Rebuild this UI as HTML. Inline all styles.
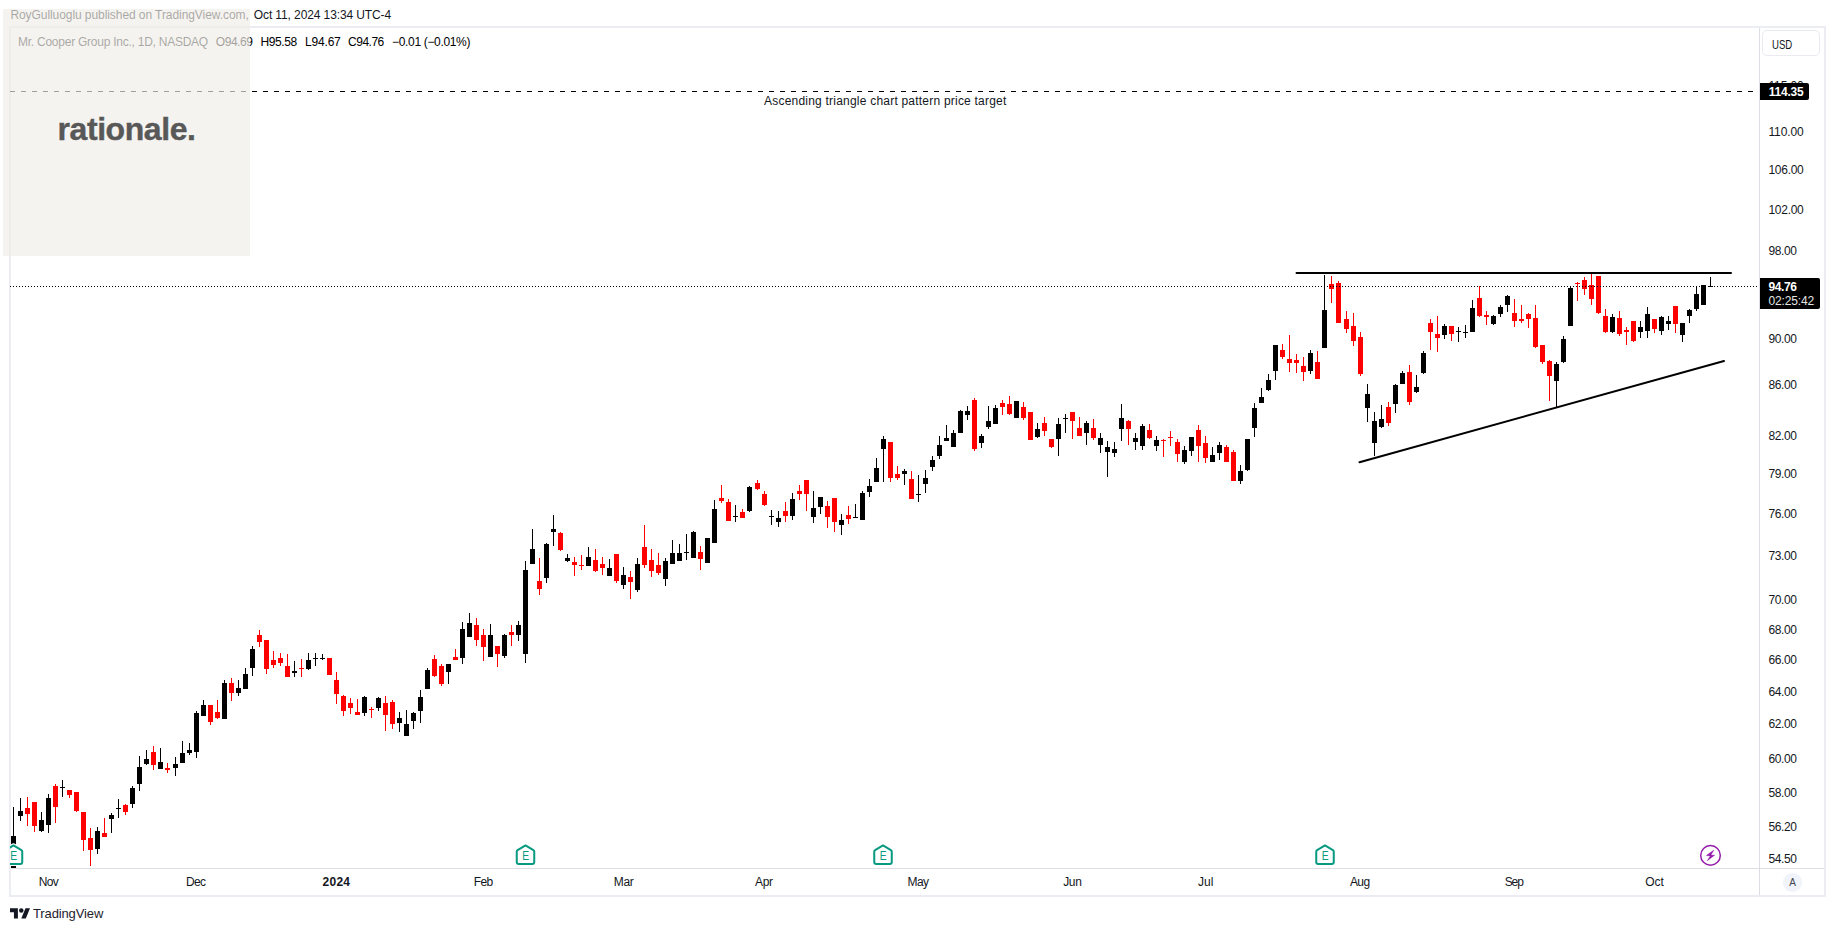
<!DOCTYPE html>
<html lang="en"><head><meta charset="utf-8"><title>COOP chart</title>
<style>
html,body{margin:0;padding:0;background:#fff}
body{width:1835px;height:931px;position:relative;overflow:hidden;font-family:"Liberation Sans", sans-serif;}
.t{position:absolute;height:16px;line-height:16px;white-space:pre;margin:0;padding:0}
.frame{position:absolute;left:9px;top:26px;width:1813px;height:867px;border:2px solid #ecedf2;box-sizing:content-box}
.vline{position:absolute;left:1759px;top:28px;width:1px;height:867px;background:#dddee3}
.hline{position:absolute;left:11px;top:868px;width:1813px;height:1px;background:#dddee3}
.chart{position:absolute;left:10px;top:28px;overflow:hidden}
.box{position:absolute;background:#000;border-radius:0 2px 2px 0}
.usd{position:absolute;left:1762.3px;top:30.2px;width:55.4px;height:23.6px;border:1.6px solid #e9ebf1;border-radius:5px}
.acirc{position:absolute;left:1783.3px;top:873.3px;width:18.4px;height:18.4px;border-radius:50%;background:#f0f3fa}
.overlay{position:absolute;left:3px;top:9px;width:247px;height:247px;background:rgba(240,237,231,0.67)}
.logo{position:absolute;left:57.5px;top:109.2px;-webkit-text-stroke:0.4px #585858;height:40px;line-height:40px;font-size:32px;font-weight:bold;color:#585858;letter-spacing:-0.42px;white-space:pre}
.tvlogo{position:absolute;left:9.8px;top:905.8px}
</style></head><body>
<div class="frame"></div>
<div class="vline"></div>
<div class="hline"></div>
<svg class="chart" width="1749" height="840" viewBox="10 28 1749 840">
<line x1="10" y1="91.5" x2="1759" y2="91.5" stroke="#000" stroke-width="1" stroke-dasharray="5 6" shape-rendering="crispEdges"/>
<g shape-rendering="crispEdges">
<rect x="13" y="807" width="1" height="61" fill="#000"/>
<rect x="11" y="836" width="5" height="32" fill="#000"/>
<rect x="20" y="798" width="1" height="23" fill="#000"/>
<rect x="18" y="811" width="5" height="5" fill="#000"/>
<rect x="27" y="797" width="1" height="29" fill="#f00"/>
<rect x="25" y="808" width="5" height="6" fill="#f00"/>
<rect x="34" y="802" width="1" height="30" fill="#f00"/>
<rect x="32" y="802" width="5" height="24" fill="#f00"/>
<rect x="41" y="812" width="1" height="20" fill="#000"/>
<rect x="39" y="820" width="5" height="11" fill="#000"/>
<rect x="48" y="794" width="1" height="39" fill="#000"/>
<rect x="46" y="798" width="5" height="27" fill="#000"/>
<rect x="55" y="784" width="1" height="39" fill="#f00"/>
<rect x="53" y="786" width="5" height="21" fill="#f00"/>
<rect x="62" y="780" width="1" height="17" fill="#000"/>
<rect x="60" y="787" width="5" height="1" fill="#000"/>
<rect x="69" y="790" width="1" height="8" fill="#f00"/>
<rect x="67" y="790" width="5" height="5" fill="#f00"/>
<rect x="76" y="792" width="1" height="20" fill="#f00"/>
<rect x="74" y="792" width="5" height="19" fill="#f00"/>
<rect x="83" y="812" width="1" height="39" fill="#f00"/>
<rect x="81" y="812" width="5" height="28" fill="#f00"/>
<rect x="90" y="828" width="1" height="38" fill="#f00"/>
<rect x="88" y="838" width="5" height="12" fill="#f00"/>
<rect x="97" y="827" width="1" height="27" fill="#000"/>
<rect x="95" y="831" width="5" height="18" fill="#000"/>
<rect x="104" y="818" width="1" height="19" fill="#f00"/>
<rect x="102" y="833" width="5" height="4" fill="#f00"/>
<rect x="111" y="813" width="1" height="20" fill="#000"/>
<rect x="109" y="815" width="5" height="4" fill="#000"/>
<rect x="118" y="799" width="1" height="19" fill="#000"/>
<rect x="116" y="808" width="5" height="1" fill="#000"/>
<rect x="125" y="804" width="1" height="11" fill="#f00"/>
<rect x="123" y="805" width="5" height="7" fill="#f00"/>
<rect x="132" y="786" width="1" height="22" fill="#000"/>
<rect x="130" y="788" width="5" height="16" fill="#000"/>
<rect x="139" y="756" width="1" height="35" fill="#000"/>
<rect x="137" y="767" width="5" height="17" fill="#000"/>
<rect x="146" y="750" width="1" height="15" fill="#000"/>
<rect x="144" y="759" width="5" height="5" fill="#000"/>
<rect x="153" y="746" width="1" height="24" fill="#f00"/>
<rect x="151" y="752" width="5" height="13" fill="#f00"/>
<rect x="160" y="748" width="1" height="21" fill="#000"/>
<rect x="158" y="762" width="5" height="7" fill="#000"/>
<rect x="167" y="763" width="1" height="10" fill="#f00"/>
<rect x="165" y="768" width="5" height="2" fill="#f00"/>
<rect x="175" y="757" width="1" height="19" fill="#000"/>
<rect x="173" y="764" width="5" height="4" fill="#000"/>
<rect x="182" y="741" width="1" height="22" fill="#000"/>
<rect x="180" y="753" width="5" height="10" fill="#000"/>
<rect x="189" y="743" width="1" height="12" fill="#000"/>
<rect x="187" y="750" width="5" height="3" fill="#000"/>
<rect x="196" y="711" width="1" height="47" fill="#000"/>
<rect x="194" y="713" width="5" height="39" fill="#000"/>
<rect x="203" y="700" width="1" height="16" fill="#000"/>
<rect x="201" y="705" width="5" height="11" fill="#000"/>
<rect x="210" y="705" width="1" height="20" fill="#f00"/>
<rect x="208" y="705" width="5" height="17" fill="#f00"/>
<rect x="217" y="700" width="1" height="19" fill="#f00"/>
<rect x="215" y="712" width="5" height="6" fill="#f00"/>
<rect x="224" y="680" width="1" height="39" fill="#000"/>
<rect x="222" y="683" width="5" height="36" fill="#000"/>
<rect x="231" y="678" width="1" height="23" fill="#f00"/>
<rect x="229" y="683" width="5" height="10" fill="#f00"/>
<rect x="238" y="680" width="1" height="16" fill="#000"/>
<rect x="236" y="688" width="5" height="5" fill="#000"/>
<rect x="245" y="668" width="1" height="21" fill="#000"/>
<rect x="243" y="674" width="5" height="15" fill="#000"/>
<rect x="252" y="646" width="1" height="30" fill="#000"/>
<rect x="250" y="649" width="5" height="19" fill="#000"/>
<rect x="259" y="630" width="1" height="17" fill="#f00"/>
<rect x="257" y="635" width="5" height="7" fill="#f00"/>
<rect x="266" y="640" width="1" height="34" fill="#f00"/>
<rect x="264" y="640" width="5" height="29" fill="#f00"/>
<rect x="273" y="651" width="1" height="17" fill="#f00"/>
<rect x="271" y="660" width="5" height="5" fill="#f00"/>
<rect x="280" y="653" width="1" height="13" fill="#f00"/>
<rect x="278" y="658" width="5" height="5" fill="#f00"/>
<rect x="287" y="654" width="1" height="23" fill="#f00"/>
<rect x="285" y="666" width="5" height="11" fill="#f00"/>
<rect x="294" y="661" width="1" height="16" fill="#000"/>
<rect x="292" y="671" width="5" height="2" fill="#000"/>
<rect x="301" y="659" width="1" height="18" fill="#f00"/>
<rect x="299" y="668" width="5" height="1" fill="#f00"/>
<rect x="308" y="653" width="1" height="17" fill="#000"/>
<rect x="306" y="660" width="5" height="9" fill="#000"/>
<rect x="315" y="653" width="1" height="13" fill="#000"/>
<rect x="313" y="658" width="5" height="1" fill="#000"/>
<rect x="322" y="654" width="1" height="6" fill="#000"/>
<rect x="320" y="658" width="5" height="1" fill="#000"/>
<rect x="329" y="658" width="1" height="17" fill="#f00"/>
<rect x="327" y="658" width="5" height="17" fill="#f00"/>
<rect x="336" y="672" width="1" height="32" fill="#f00"/>
<rect x="334" y="680" width="5" height="14" fill="#f00"/>
<rect x="343" y="695" width="1" height="21" fill="#f00"/>
<rect x="341" y="696" width="5" height="15" fill="#f00"/>
<rect x="350" y="698" width="1" height="16" fill="#f00"/>
<rect x="348" y="703" width="5" height="5" fill="#f00"/>
<rect x="357" y="699" width="1" height="16" fill="#f00"/>
<rect x="355" y="712" width="5" height="3" fill="#f00"/>
<rect x="364" y="696" width="1" height="20" fill="#000"/>
<rect x="362" y="697" width="5" height="16" fill="#000"/>
<rect x="371" y="707" width="1" height="11" fill="#f00"/>
<rect x="369" y="709" width="5" height="1" fill="#f00"/>
<rect x="378" y="697" width="1" height="14" fill="#000"/>
<rect x="376" y="698" width="5" height="10" fill="#000"/>
<rect x="385" y="696" width="1" height="35" fill="#f00"/>
<rect x="383" y="703" width="5" height="12" fill="#f00"/>
<rect x="392" y="700" width="1" height="29" fill="#f00"/>
<rect x="390" y="702" width="5" height="22" fill="#f00"/>
<rect x="399" y="712" width="1" height="20" fill="#000"/>
<rect x="397" y="718" width="5" height="5" fill="#000"/>
<rect x="406" y="710" width="1" height="26" fill="#000"/>
<rect x="404" y="724" width="5" height="12" fill="#000"/>
<rect x="413" y="712" width="1" height="17" fill="#000"/>
<rect x="411" y="713" width="5" height="8" fill="#000"/>
<rect x="420" y="690" width="1" height="33" fill="#000"/>
<rect x="418" y="697" width="5" height="14" fill="#000"/>
<rect x="427" y="668" width="1" height="21" fill="#000"/>
<rect x="425" y="670" width="5" height="19" fill="#000"/>
<rect x="434" y="655" width="1" height="22" fill="#f00"/>
<rect x="432" y="659" width="5" height="17" fill="#f00"/>
<rect x="441" y="664" width="1" height="22" fill="#f00"/>
<rect x="439" y="666" width="5" height="18" fill="#f00"/>
<rect x="448" y="664" width="1" height="20" fill="#000"/>
<rect x="446" y="664" width="5" height="8" fill="#000"/>
<rect x="455" y="649" width="1" height="11" fill="#f00"/>
<rect x="453" y="657" width="5" height="3" fill="#f00"/>
<rect x="462" y="622" width="1" height="42" fill="#000"/>
<rect x="460" y="629" width="5" height="29" fill="#000"/>
<rect x="469" y="613" width="1" height="24" fill="#000"/>
<rect x="467" y="623" width="5" height="14" fill="#000"/>
<rect x="476" y="618" width="1" height="28" fill="#f00"/>
<rect x="474" y="625" width="5" height="15" fill="#f00"/>
<rect x="483" y="629" width="1" height="32" fill="#f00"/>
<rect x="481" y="635" width="5" height="12" fill="#f00"/>
<rect x="490" y="624" width="1" height="33" fill="#000"/>
<rect x="488" y="635" width="5" height="22" fill="#000"/>
<rect x="497" y="646" width="1" height="21" fill="#f00"/>
<rect x="495" y="646" width="5" height="8" fill="#f00"/>
<rect x="504" y="634" width="1" height="24" fill="#000"/>
<rect x="502" y="635" width="5" height="21" fill="#000"/>
<rect x="511" y="625" width="1" height="21" fill="#f00"/>
<rect x="509" y="632" width="5" height="3" fill="#f00"/>
<rect x="518" y="621" width="1" height="20" fill="#000"/>
<rect x="516" y="625" width="5" height="10" fill="#000"/>
<rect x="525" y="561" width="1" height="102" fill="#000"/>
<rect x="523" y="570" width="5" height="84" fill="#000"/>
<rect x="532" y="529" width="1" height="35" fill="#000"/>
<rect x="530" y="549" width="5" height="15" fill="#000"/>
<rect x="539" y="558" width="1" height="37" fill="#f00"/>
<rect x="537" y="581" width="5" height="8" fill="#f00"/>
<rect x="546" y="543" width="1" height="40" fill="#000"/>
<rect x="544" y="544" width="5" height="34" fill="#000"/>
<rect x="553" y="515" width="1" height="31" fill="#000"/>
<rect x="551" y="529" width="5" height="3" fill="#000"/>
<rect x="560" y="532" width="1" height="19" fill="#f00"/>
<rect x="558" y="533" width="5" height="17" fill="#f00"/>
<rect x="567" y="554" width="1" height="8" fill="#000"/>
<rect x="565" y="558" width="5" height="3" fill="#000"/>
<rect x="574" y="557" width="1" height="19" fill="#f00"/>
<rect x="572" y="562" width="5" height="3" fill="#f00"/>
<rect x="581" y="555" width="1" height="15" fill="#f00"/>
<rect x="579" y="565" width="5" height="1" fill="#f00"/>
<rect x="588" y="547" width="1" height="19" fill="#000"/>
<rect x="586" y="557" width="5" height="9" fill="#000"/>
<rect x="595" y="549" width="1" height="23" fill="#f00"/>
<rect x="593" y="560" width="5" height="11" fill="#f00"/>
<rect x="602" y="557" width="1" height="18" fill="#f00"/>
<rect x="600" y="564" width="5" height="4" fill="#f00"/>
<rect x="609" y="559" width="1" height="17" fill="#000"/>
<rect x="607" y="568" width="5" height="8" fill="#000"/>
<rect x="616" y="554" width="1" height="29" fill="#f00"/>
<rect x="614" y="554" width="5" height="27" fill="#f00"/>
<rect x="623" y="567" width="1" height="22" fill="#000"/>
<rect x="621" y="575" width="5" height="10" fill="#000"/>
<rect x="630" y="571" width="1" height="28" fill="#f00"/>
<rect x="628" y="577" width="5" height="5" fill="#f00"/>
<rect x="637" y="558" width="1" height="34" fill="#000"/>
<rect x="635" y="564" width="5" height="26" fill="#000"/>
<rect x="644" y="525" width="1" height="43" fill="#f00"/>
<rect x="642" y="547" width="5" height="18" fill="#f00"/>
<rect x="651" y="549" width="1" height="28" fill="#f00"/>
<rect x="649" y="560" width="5" height="11" fill="#f00"/>
<rect x="658" y="553" width="1" height="22" fill="#f00"/>
<rect x="656" y="565" width="5" height="8" fill="#f00"/>
<rect x="665" y="558" width="1" height="28" fill="#000"/>
<rect x="663" y="561" width="5" height="18" fill="#000"/>
<rect x="672" y="540" width="1" height="24" fill="#000"/>
<rect x="670" y="553" width="5" height="11" fill="#000"/>
<rect x="679" y="544" width="1" height="17" fill="#000"/>
<rect x="677" y="553" width="5" height="8" fill="#000"/>
<rect x="686" y="534" width="1" height="26" fill="#000"/>
<rect x="684" y="552" width="5" height="1" fill="#000"/>
<rect x="693" y="531" width="1" height="27" fill="#000"/>
<rect x="691" y="532" width="5" height="26" fill="#000"/>
<rect x="700" y="546" width="1" height="24" fill="#f00"/>
<rect x="698" y="552" width="5" height="7" fill="#f00"/>
<rect x="707" y="538" width="1" height="25" fill="#000"/>
<rect x="705" y="538" width="5" height="25" fill="#000"/>
<rect x="714" y="500" width="1" height="43" fill="#000"/>
<rect x="712" y="509" width="5" height="34" fill="#000"/>
<rect x="721" y="485" width="1" height="18" fill="#f00"/>
<rect x="719" y="498" width="5" height="3" fill="#f00"/>
<rect x="728" y="499" width="1" height="22" fill="#f00"/>
<rect x="726" y="502" width="5" height="19" fill="#f00"/>
<rect x="735" y="505" width="1" height="17" fill="#000"/>
<rect x="733" y="516" width="5" height="1" fill="#000"/>
<rect x="742" y="509" width="1" height="9" fill="#f00"/>
<rect x="740" y="512" width="5" height="6" fill="#f00"/>
<rect x="749" y="486" width="1" height="26" fill="#000"/>
<rect x="747" y="487" width="5" height="24" fill="#000"/>
<rect x="757" y="480" width="1" height="10" fill="#f00"/>
<rect x="755" y="483" width="5" height="6" fill="#f00"/>
<rect x="764" y="491" width="1" height="15" fill="#f00"/>
<rect x="762" y="494" width="5" height="11" fill="#f00"/>
<rect x="771" y="510" width="1" height="15" fill="#000"/>
<rect x="769" y="516" width="5" height="1" fill="#000"/>
<rect x="778" y="511" width="1" height="16" fill="#000"/>
<rect x="776" y="518" width="5" height="4" fill="#000"/>
<rect x="785" y="502" width="1" height="20" fill="#f00"/>
<rect x="783" y="511" width="5" height="5" fill="#f00"/>
<rect x="792" y="493" width="1" height="27" fill="#000"/>
<rect x="790" y="499" width="5" height="17" fill="#000"/>
<rect x="799" y="485" width="1" height="15" fill="#f00"/>
<rect x="797" y="491" width="5" height="3" fill="#f00"/>
<rect x="806" y="480" width="1" height="31" fill="#f00"/>
<rect x="804" y="480" width="5" height="14" fill="#f00"/>
<rect x="813" y="491" width="1" height="32" fill="#000"/>
<rect x="811" y="508" width="5" height="9" fill="#000"/>
<rect x="820" y="497" width="1" height="17" fill="#000"/>
<rect x="818" y="497" width="5" height="10" fill="#000"/>
<rect x="827" y="501" width="1" height="27" fill="#f00"/>
<rect x="825" y="506" width="5" height="11" fill="#f00"/>
<rect x="834" y="498" width="1" height="34" fill="#f00"/>
<rect x="832" y="498" width="5" height="24" fill="#f00"/>
<rect x="841" y="514" width="1" height="21" fill="#000"/>
<rect x="839" y="520" width="5" height="5" fill="#000"/>
<rect x="848" y="506" width="1" height="18" fill="#f00"/>
<rect x="846" y="515" width="5" height="4" fill="#f00"/>
<rect x="855" y="504" width="1" height="14" fill="#000"/>
<rect x="853" y="517" width="5" height="1" fill="#000"/>
<rect x="862" y="491" width="1" height="29" fill="#000"/>
<rect x="860" y="493" width="5" height="27" fill="#000"/>
<rect x="869" y="479" width="1" height="18" fill="#000"/>
<rect x="867" y="486" width="5" height="6" fill="#000"/>
<rect x="876" y="458" width="1" height="24" fill="#000"/>
<rect x="874" y="468" width="5" height="14" fill="#000"/>
<rect x="883" y="436" width="1" height="46" fill="#000"/>
<rect x="881" y="439" width="5" height="10" fill="#000"/>
<rect x="890" y="442" width="1" height="40" fill="#f00"/>
<rect x="888" y="442" width="5" height="36" fill="#f00"/>
<rect x="897" y="466" width="1" height="14" fill="#f00"/>
<rect x="895" y="474" width="5" height="4" fill="#f00"/>
<rect x="904" y="469" width="1" height="16" fill="#000"/>
<rect x="902" y="471" width="5" height="3" fill="#000"/>
<rect x="911" y="471" width="1" height="28" fill="#f00"/>
<rect x="909" y="479" width="5" height="20" fill="#f00"/>
<rect x="918" y="475" width="1" height="27" fill="#000"/>
<rect x="916" y="494" width="5" height="1" fill="#000"/>
<rect x="925" y="470" width="1" height="23" fill="#000"/>
<rect x="923" y="478" width="5" height="6" fill="#000"/>
<rect x="932" y="456" width="1" height="15" fill="#000"/>
<rect x="930" y="460" width="5" height="7" fill="#000"/>
<rect x="939" y="436" width="1" height="23" fill="#000"/>
<rect x="937" y="445" width="5" height="11" fill="#000"/>
<rect x="946" y="425" width="1" height="16" fill="#000"/>
<rect x="944" y="438" width="5" height="3" fill="#000"/>
<rect x="953" y="430" width="1" height="17" fill="#000"/>
<rect x="951" y="433" width="5" height="14" fill="#000"/>
<rect x="960" y="410" width="1" height="23" fill="#000"/>
<rect x="958" y="411" width="5" height="22" fill="#000"/>
<rect x="967" y="406" width="1" height="14" fill="#000"/>
<rect x="965" y="411" width="5" height="4" fill="#000"/>
<rect x="974" y="398" width="1" height="53" fill="#f00"/>
<rect x="972" y="400" width="5" height="49" fill="#f00"/>
<rect x="981" y="434" width="1" height="14" fill="#000"/>
<rect x="979" y="436" width="5" height="7" fill="#000"/>
<rect x="988" y="406" width="1" height="23" fill="#000"/>
<rect x="986" y="421" width="5" height="6" fill="#000"/>
<rect x="995" y="405" width="1" height="19" fill="#000"/>
<rect x="993" y="408" width="5" height="16" fill="#000"/>
<rect x="1002" y="400" width="1" height="15" fill="#f00"/>
<rect x="1000" y="403" width="5" height="4" fill="#f00"/>
<rect x="1009" y="396" width="1" height="19" fill="#f00"/>
<rect x="1007" y="404" width="5" height="10" fill="#f00"/>
<rect x="1016" y="401" width="1" height="17" fill="#000"/>
<rect x="1014" y="401" width="5" height="17" fill="#000"/>
<rect x="1023" y="402" width="1" height="18" fill="#f00"/>
<rect x="1021" y="407" width="5" height="11" fill="#f00"/>
<rect x="1030" y="412" width="1" height="28" fill="#f00"/>
<rect x="1028" y="412" width="5" height="28" fill="#f00"/>
<rect x="1037" y="423" width="1" height="15" fill="#000"/>
<rect x="1035" y="429" width="5" height="8" fill="#000"/>
<rect x="1044" y="417" width="1" height="19" fill="#f00"/>
<rect x="1042" y="423" width="5" height="8" fill="#f00"/>
<rect x="1051" y="439" width="1" height="9" fill="#f00"/>
<rect x="1049" y="439" width="5" height="8" fill="#f00"/>
<rect x="1058" y="418" width="1" height="38" fill="#000"/>
<rect x="1056" y="424" width="5" height="15" fill="#000"/>
<rect x="1065" y="414" width="1" height="19" fill="#000"/>
<rect x="1063" y="418" width="5" height="1" fill="#000"/>
<rect x="1072" y="412" width="1" height="27" fill="#f00"/>
<rect x="1070" y="412" width="5" height="9" fill="#f00"/>
<rect x="1079" y="417" width="1" height="19" fill="#f00"/>
<rect x="1077" y="428" width="5" height="8" fill="#f00"/>
<rect x="1086" y="421" width="1" height="24" fill="#000"/>
<rect x="1084" y="423" width="5" height="10" fill="#000"/>
<rect x="1093" y="419" width="1" height="21" fill="#f00"/>
<rect x="1091" y="428" width="5" height="10" fill="#f00"/>
<rect x="1100" y="433" width="1" height="20" fill="#000"/>
<rect x="1098" y="438" width="5" height="7" fill="#000"/>
<rect x="1107" y="441" width="1" height="36" fill="#000"/>
<rect x="1105" y="447" width="5" height="5" fill="#000"/>
<rect x="1114" y="442" width="1" height="15" fill="#000"/>
<rect x="1112" y="449" width="5" height="4" fill="#000"/>
<rect x="1121" y="404" width="1" height="37" fill="#000"/>
<rect x="1119" y="418" width="5" height="11" fill="#000"/>
<rect x="1128" y="420" width="1" height="25" fill="#f00"/>
<rect x="1126" y="421" width="5" height="8" fill="#f00"/>
<rect x="1135" y="433" width="1" height="17" fill="#000"/>
<rect x="1133" y="438" width="5" height="4" fill="#000"/>
<rect x="1142" y="424" width="1" height="26" fill="#000"/>
<rect x="1140" y="426" width="5" height="20" fill="#000"/>
<rect x="1149" y="424" width="1" height="15" fill="#f00"/>
<rect x="1147" y="430" width="5" height="8" fill="#f00"/>
<rect x="1156" y="436" width="1" height="15" fill="#000"/>
<rect x="1154" y="440" width="5" height="6" fill="#000"/>
<rect x="1163" y="439" width="1" height="18" fill="#f00"/>
<rect x="1161" y="440" width="5" height="1" fill="#f00"/>
<rect x="1170" y="431" width="1" height="15" fill="#f00"/>
<rect x="1168" y="437" width="5" height="1" fill="#f00"/>
<rect x="1177" y="439" width="1" height="23" fill="#f00"/>
<rect x="1175" y="442" width="5" height="12" fill="#f00"/>
<rect x="1184" y="446" width="1" height="18" fill="#000"/>
<rect x="1182" y="450" width="5" height="12" fill="#000"/>
<rect x="1191" y="437" width="1" height="19" fill="#000"/>
<rect x="1189" y="437" width="5" height="14" fill="#000"/>
<rect x="1198" y="425" width="1" height="37" fill="#f00"/>
<rect x="1196" y="430" width="5" height="16" fill="#f00"/>
<rect x="1205" y="436" width="1" height="27" fill="#f00"/>
<rect x="1203" y="443" width="5" height="15" fill="#f00"/>
<rect x="1212" y="447" width="1" height="15" fill="#000"/>
<rect x="1210" y="455" width="5" height="7" fill="#000"/>
<rect x="1219" y="442" width="1" height="18" fill="#000"/>
<rect x="1217" y="445" width="5" height="8" fill="#000"/>
<rect x="1226" y="445" width="1" height="17" fill="#f00"/>
<rect x="1224" y="447" width="5" height="15" fill="#f00"/>
<rect x="1233" y="450" width="1" height="31" fill="#f00"/>
<rect x="1231" y="452" width="5" height="29" fill="#f00"/>
<rect x="1240" y="465" width="1" height="19" fill="#000"/>
<rect x="1238" y="471" width="5" height="10" fill="#000"/>
<rect x="1247" y="439" width="1" height="32" fill="#000"/>
<rect x="1245" y="439" width="5" height="31" fill="#000"/>
<rect x="1254" y="403" width="1" height="34" fill="#000"/>
<rect x="1252" y="408" width="5" height="20" fill="#000"/>
<rect x="1261" y="388" width="1" height="15" fill="#000"/>
<rect x="1259" y="397" width="5" height="6" fill="#000"/>
<rect x="1268" y="374" width="1" height="17" fill="#000"/>
<rect x="1266" y="380" width="5" height="10" fill="#000"/>
<rect x="1275" y="345" width="1" height="35" fill="#000"/>
<rect x="1273" y="345" width="5" height="26" fill="#000"/>
<rect x="1282" y="344" width="1" height="15" fill="#f00"/>
<rect x="1280" y="350" width="5" height="7" fill="#f00"/>
<rect x="1289" y="335" width="1" height="37" fill="#f00"/>
<rect x="1287" y="359" width="5" height="4" fill="#f00"/>
<rect x="1296" y="354" width="1" height="19" fill="#f00"/>
<rect x="1294" y="360" width="5" height="3" fill="#f00"/>
<rect x="1303" y="357" width="1" height="24" fill="#f00"/>
<rect x="1301" y="366" width="5" height="6" fill="#f00"/>
<rect x="1310" y="350" width="1" height="24" fill="#000"/>
<rect x="1308" y="353" width="5" height="18" fill="#000"/>
<rect x="1317" y="351" width="1" height="28" fill="#f00"/>
<rect x="1315" y="362" width="5" height="17" fill="#f00"/>
<rect x="1324" y="275" width="1" height="73" fill="#000"/>
<rect x="1322" y="310" width="5" height="38" fill="#000"/>
<rect x="1331" y="276" width="1" height="27" fill="#f00"/>
<rect x="1329" y="284" width="5" height="5" fill="#f00"/>
<rect x="1338" y="281" width="1" height="42" fill="#f00"/>
<rect x="1336" y="283" width="5" height="40" fill="#f00"/>
<rect x="1346" y="311" width="1" height="22" fill="#f00"/>
<rect x="1344" y="319" width="5" height="10" fill="#f00"/>
<rect x="1353" y="313" width="1" height="33" fill="#f00"/>
<rect x="1351" y="326" width="5" height="15" fill="#f00"/>
<rect x="1360" y="332" width="1" height="44" fill="#f00"/>
<rect x="1358" y="337" width="5" height="37" fill="#f00"/>
<rect x="1367" y="384" width="1" height="38" fill="#000"/>
<rect x="1365" y="394" width="5" height="14" fill="#000"/>
<rect x="1374" y="412" width="1" height="44" fill="#000"/>
<rect x="1372" y="421" width="5" height="22" fill="#000"/>
<rect x="1381" y="405" width="1" height="23" fill="#000"/>
<rect x="1379" y="419" width="5" height="8" fill="#000"/>
<rect x="1388" y="402" width="1" height="24" fill="#f00"/>
<rect x="1386" y="407" width="5" height="16" fill="#f00"/>
<rect x="1395" y="384" width="1" height="29" fill="#000"/>
<rect x="1393" y="385" width="5" height="19" fill="#000"/>
<rect x="1402" y="371" width="1" height="13" fill="#000"/>
<rect x="1400" y="373" width="5" height="11" fill="#000"/>
<rect x="1409" y="365" width="1" height="40" fill="#f00"/>
<rect x="1407" y="372" width="5" height="30" fill="#f00"/>
<rect x="1416" y="375" width="1" height="18" fill="#000"/>
<rect x="1414" y="387" width="5" height="5" fill="#000"/>
<rect x="1423" y="351" width="1" height="23" fill="#000"/>
<rect x="1421" y="353" width="5" height="20" fill="#000"/>
<rect x="1430" y="319" width="1" height="31" fill="#f00"/>
<rect x="1428" y="323" width="5" height="9" fill="#f00"/>
<rect x="1437" y="316" width="1" height="36" fill="#f00"/>
<rect x="1435" y="334" width="5" height="4" fill="#f00"/>
<rect x="1444" y="324" width="1" height="15" fill="#000"/>
<rect x="1442" y="326" width="5" height="9" fill="#000"/>
<rect x="1451" y="326" width="1" height="15" fill="#f00"/>
<rect x="1449" y="326" width="5" height="8" fill="#f00"/>
<rect x="1458" y="327" width="1" height="15" fill="#000"/>
<rect x="1456" y="331" width="5" height="1" fill="#000"/>
<rect x="1465" y="325" width="1" height="13" fill="#000"/>
<rect x="1463" y="332" width="5" height="1" fill="#000"/>
<rect x="1472" y="300" width="1" height="32" fill="#000"/>
<rect x="1470" y="308" width="5" height="24" fill="#000"/>
<rect x="1479" y="286" width="1" height="31" fill="#f00"/>
<rect x="1477" y="298" width="5" height="18" fill="#f00"/>
<rect x="1486" y="311" width="1" height="14" fill="#f00"/>
<rect x="1484" y="315" width="5" height="2" fill="#f00"/>
<rect x="1493" y="315" width="1" height="10" fill="#000"/>
<rect x="1491" y="316" width="5" height="8" fill="#000"/>
<rect x="1500" y="305" width="1" height="12" fill="#000"/>
<rect x="1498" y="307" width="5" height="7" fill="#000"/>
<rect x="1507" y="295" width="1" height="17" fill="#000"/>
<rect x="1505" y="296" width="5" height="9" fill="#000"/>
<rect x="1514" y="299" width="1" height="28" fill="#f00"/>
<rect x="1512" y="313" width="5" height="8" fill="#f00"/>
<rect x="1521" y="305" width="1" height="18" fill="#f00"/>
<rect x="1519" y="319" width="5" height="2" fill="#f00"/>
<rect x="1528" y="313" width="1" height="15" fill="#f00"/>
<rect x="1526" y="314" width="5" height="5" fill="#f00"/>
<rect x="1535" y="305" width="1" height="43" fill="#f00"/>
<rect x="1533" y="318" width="5" height="29" fill="#f00"/>
<rect x="1542" y="345" width="1" height="19" fill="#f00"/>
<rect x="1540" y="345" width="5" height="17" fill="#f00"/>
<rect x="1549" y="360" width="1" height="41" fill="#f00"/>
<rect x="1547" y="361" width="5" height="15" fill="#f00"/>
<rect x="1556" y="362" width="1" height="45" fill="#000"/>
<rect x="1554" y="364" width="5" height="17" fill="#000"/>
<rect x="1563" y="336" width="1" height="27" fill="#000"/>
<rect x="1561" y="339" width="5" height="23" fill="#000"/>
<rect x="1570" y="286" width="1" height="40" fill="#000"/>
<rect x="1568" y="288" width="5" height="38" fill="#000"/>
<rect x="1577" y="282" width="1" height="19" fill="#f00"/>
<rect x="1575" y="283" width="5" height="1" fill="#f00"/>
<rect x="1584" y="277" width="1" height="18" fill="#f00"/>
<rect x="1582" y="280" width="5" height="9" fill="#f00"/>
<rect x="1591" y="272" width="1" height="33" fill="#f00"/>
<rect x="1589" y="285" width="5" height="14" fill="#f00"/>
<rect x="1598" y="276" width="1" height="38" fill="#f00"/>
<rect x="1596" y="276" width="5" height="37" fill="#f00"/>
<rect x="1605" y="309" width="1" height="24" fill="#f00"/>
<rect x="1603" y="316" width="5" height="16" fill="#f00"/>
<rect x="1612" y="314" width="1" height="19" fill="#000"/>
<rect x="1610" y="317" width="5" height="15" fill="#000"/>
<rect x="1619" y="311" width="1" height="25" fill="#f00"/>
<rect x="1617" y="318" width="5" height="16" fill="#f00"/>
<rect x="1626" y="327" width="1" height="18" fill="#f00"/>
<rect x="1624" y="330" width="5" height="2" fill="#f00"/>
<rect x="1633" y="321" width="1" height="21" fill="#f00"/>
<rect x="1631" y="321" width="5" height="20" fill="#f00"/>
<rect x="1640" y="321" width="1" height="17" fill="#000"/>
<rect x="1638" y="327" width="5" height="5" fill="#000"/>
<rect x="1647" y="307" width="1" height="31" fill="#000"/>
<rect x="1645" y="314" width="5" height="17" fill="#000"/>
<rect x="1654" y="319" width="1" height="14" fill="#f00"/>
<rect x="1652" y="319" width="5" height="10" fill="#f00"/>
<rect x="1661" y="316" width="1" height="19" fill="#000"/>
<rect x="1659" y="317" width="5" height="14" fill="#000"/>
<rect x="1668" y="316" width="1" height="14" fill="#000"/>
<rect x="1666" y="321" width="5" height="3" fill="#000"/>
<rect x="1675" y="306" width="1" height="27" fill="#f00"/>
<rect x="1673" y="306" width="5" height="18" fill="#f00"/>
<rect x="1682" y="323" width="1" height="19" fill="#000"/>
<rect x="1680" y="323" width="5" height="12" fill="#000"/>
<rect x="1689" y="309" width="1" height="14" fill="#000"/>
<rect x="1687" y="310" width="5" height="6" fill="#000"/>
<rect x="1696" y="286" width="1" height="25" fill="#000"/>
<rect x="1694" y="294" width="5" height="15" fill="#000"/>
<rect x="1703" y="285" width="1" height="20" fill="#000"/>
<rect x="1701" y="285" width="5" height="20" fill="#000"/>
<rect x="1710" y="277" width="1" height="10" fill="#000"/>
<rect x="1708" y="286" width="5" height="1" fill="#000"/>
</g>
<line x1="10" y1="286.5" x2="1759" y2="286.5" stroke="#000" stroke-width="1" stroke-dasharray="1 2" shape-rendering="crispEdges"/>
<line x1="1296.5" y1="273" x2="1731" y2="273" stroke="#000" stroke-width="2" stroke-linecap="round"/>
<line x1="1359.5" y1="462.2" x2="1724" y2="361.0" stroke="#000" stroke-width="2" stroke-linecap="round"/>
<path d="M4.75 861.9 V851.6 Q4.75 850.6 5.60 850.1 L13.50 845.4 L21.40 850.1 Q22.25 850.6 22.25 851.6 V861.9 Q22.25 863.9 20.25 863.9 H6.75 Q4.75 863.9 4.75 861.9 Z" fill="#fff" stroke="#fff" stroke-width="4.4" stroke-linejoin="round"/>
<path d="M4.75 861.9 V851.6 Q4.75 850.6 5.60 850.1 L13.50 845.4 L21.40 850.1 Q22.25 850.6 22.25 851.6 V861.9 Q22.25 863.9 20.25 863.9 H6.75 Q4.75 863.9 4.75 861.9 Z" fill="#fff" stroke="#089981" stroke-width="2" stroke-linejoin="round"/>
<text transform="translate(13.70 860) scale(0.86 1)" x="0" y="0" font-family='Liberation Sans, sans-serif' font-size="12" fill="#089981" text-anchor="middle">E</text>
<path d="M516.75 861.9 V851.6 Q516.75 850.6 517.60 850.1 L525.50 845.4 L533.40 850.1 Q534.25 850.6 534.25 851.6 V861.9 Q534.25 863.9 532.25 863.9 H518.75 Q516.75 863.9 516.75 861.9 Z" fill="#fff" stroke="#fff" stroke-width="4.4" stroke-linejoin="round"/>
<path d="M516.75 861.9 V851.6 Q516.75 850.6 517.60 850.1 L525.50 845.4 L533.40 850.1 Q534.25 850.6 534.25 851.6 V861.9 Q534.25 863.9 532.25 863.9 H518.75 Q516.75 863.9 516.75 861.9 Z" fill="#fff" stroke="#089981" stroke-width="2" stroke-linejoin="round"/>
<text transform="translate(525.70 860) scale(0.86 1)" x="0" y="0" font-family='Liberation Sans, sans-serif' font-size="12" fill="#089981" text-anchor="middle">E</text>
<path d="M874.25 861.9 V851.6 Q874.25 850.6 875.10 850.1 L883.00 845.4 L890.90 850.1 Q891.75 850.6 891.75 851.6 V861.9 Q891.75 863.9 889.75 863.9 H876.25 Q874.25 863.9 874.25 861.9 Z" fill="#fff" stroke="#fff" stroke-width="4.4" stroke-linejoin="round"/>
<path d="M874.25 861.9 V851.6 Q874.25 850.6 875.10 850.1 L883.00 845.4 L890.90 850.1 Q891.75 850.6 891.75 851.6 V861.9 Q891.75 863.9 889.75 863.9 H876.25 Q874.25 863.9 874.25 861.9 Z" fill="#fff" stroke="#089981" stroke-width="2" stroke-linejoin="round"/>
<text transform="translate(883.20 860) scale(0.86 1)" x="0" y="0" font-family='Liberation Sans, sans-serif' font-size="12" fill="#089981" text-anchor="middle">E</text>
<path d="M1316.25 861.9 V851.6 Q1316.25 850.6 1317.10 850.1 L1325.00 845.4 L1332.90 850.1 Q1333.75 850.6 1333.75 851.6 V861.9 Q1333.75 863.9 1331.75 863.9 H1318.25 Q1316.25 863.9 1316.25 861.9 Z" fill="#fff" stroke="#fff" stroke-width="4.4" stroke-linejoin="round"/>
<path d="M1316.25 861.9 V851.6 Q1316.25 850.6 1317.10 850.1 L1325.00 845.4 L1332.90 850.1 Q1333.75 850.6 1333.75 851.6 V861.9 Q1333.75 863.9 1331.75 863.9 H1318.25 Q1316.25 863.9 1316.25 861.9 Z" fill="#fff" stroke="#089981" stroke-width="2" stroke-linejoin="round"/>
<text transform="translate(1325.20 860) scale(0.86 1)" x="0" y="0" font-family='Liberation Sans, sans-serif' font-size="12" fill="#089981" text-anchor="middle">E</text>
<circle cx="1710.5" cy="855.4" r="9.8" fill="#fff" stroke="#961cac" stroke-width="1.5"/>
<path d="M1713.9 850.1 L1706.2 855.6 L1710.2 855.9 L1707.2 860.8 L1714.7 855.25 L1711 855 Z" fill="#961cac" stroke="#961cac" stroke-width="0.4" stroke-linejoin="round"/>
</svg>
<div id="h1" class="t" style="left:10.40px;top:6.69px;font-size:12px;font-weight:normal;color:#131722;letter-spacing:-0.070px;">RoyGulluoglu published on TradingView.com,</div>
<div id="h2" class="t" style="left:253.80px;top:6.69px;font-size:12px;font-weight:normal;color:#131722;letter-spacing:-0.107px;">Oct 11, 2024 13:34 UTC-4</div>
<div id="l0" class="t" style="left:18.00px;top:33.59px;font-size:12px;font-weight:normal;color:#131722;letter-spacing:-0.246px;">Mr. Cooper Group Inc., 1D, NASDAQ</div>
<div id="l1" class="t" style="left:215.80px;top:33.59px;font-size:12px;font-weight:normal;color:#000;letter-spacing:-0.455px;">O94.69</div>
<div id="l2" class="t" style="left:260.40px;top:33.59px;font-size:12px;font-weight:normal;color:#000;letter-spacing:-0.361px;">H95.58</div>
<div id="l3" class="t" style="left:305.10px;top:33.59px;font-size:12px;font-weight:normal;color:#000;letter-spacing:-0.201px;">L94.67</div>
<div id="l4" class="t" style="left:348.00px;top:33.59px;font-size:12px;font-weight:normal;color:#000;letter-spacing:-0.481px;">C94.76</div>
<div id="l5" class="t" style="left:392.10px;top:33.59px;font-size:12px;font-weight:normal;color:#000;letter-spacing:-0.341px;">−0.01 (−0.01%)</div>
<div id="an" class="t" style="left:764.00px;top:92.74px;font-size:12px;font-weight:normal;color:#131722;letter-spacing:0.216px;">Ascending triangle chart pattern price target</div>
<div id="p0" class="t" style="left:1768.40px;top:78.34px;font-size:12px;font-weight:normal;color:#131722;letter-spacing:-0.083px;">115.00</div>
<div id="p1" class="t" style="left:1768.40px;top:123.64px;font-size:12px;font-weight:normal;color:#131722;letter-spacing:-0.083px;">110.00</div>
<div id="p2" class="t" style="left:1768.40px;top:162.04px;font-size:12px;font-weight:normal;color:#131722;letter-spacing:-0.261px;">106.00</div>
<div id="p3" class="t" style="left:1768.40px;top:202.04px;font-size:12px;font-weight:normal;color:#131722;letter-spacing:-0.261px;">102.00</div>
<div id="p4" class="t" style="left:1768.40px;top:242.94px;font-size:12px;font-weight:normal;color:#131722;letter-spacing:-0.358px;">98.00</div>
<div id="p5" class="t" style="left:1768.40px;top:330.94px;font-size:12px;font-weight:normal;color:#131722;letter-spacing:-0.358px;">90.00</div>
<div id="p6" class="t" style="left:1768.40px;top:377.34px;font-size:12px;font-weight:normal;color:#131722;letter-spacing:-0.358px;">86.00</div>
<div id="p7" class="t" style="left:1768.40px;top:427.64px;font-size:12px;font-weight:normal;color:#131722;letter-spacing:-0.358px;">82.00</div>
<div id="p8" class="t" style="left:1768.40px;top:465.74px;font-size:12px;font-weight:normal;color:#131722;letter-spacing:-0.358px;">79.00</div>
<div id="p9" class="t" style="left:1768.40px;top:505.54px;font-size:12px;font-weight:normal;color:#131722;letter-spacing:-0.358px;">76.00</div>
<div id="p10" class="t" style="left:1768.40px;top:547.64px;font-size:12px;font-weight:normal;color:#131722;letter-spacing:-0.358px;">73.00</div>
<div id="p11" class="t" style="left:1768.40px;top:591.74px;font-size:12px;font-weight:normal;color:#131722;letter-spacing:-0.358px;">70.00</div>
<div id="p12" class="t" style="left:1768.40px;top:621.74px;font-size:12px;font-weight:normal;color:#131722;letter-spacing:-0.358px;">68.00</div>
<div id="p13" class="t" style="left:1768.40px;top:652.34px;font-size:12px;font-weight:normal;color:#131722;letter-spacing:-0.358px;">66.00</div>
<div id="p14" class="t" style="left:1768.40px;top:683.54px;font-size:12px;font-weight:normal;color:#131722;letter-spacing:-0.358px;">64.00</div>
<div id="p15" class="t" style="left:1768.40px;top:716.44px;font-size:12px;font-weight:normal;color:#131722;letter-spacing:-0.358px;">62.00</div>
<div id="p16" class="t" style="left:1768.40px;top:750.64px;font-size:12px;font-weight:normal;color:#131722;letter-spacing:-0.358px;">60.00</div>
<div id="p17" class="t" style="left:1768.40px;top:785.44px;font-size:12px;font-weight:normal;color:#131722;letter-spacing:-0.358px;">58.00</div>
<div id="p18" class="t" style="left:1768.40px;top:818.84px;font-size:12px;font-weight:normal;color:#131722;letter-spacing:-0.358px;">56.20</div>
<div id="p19" class="t" style="left:1768.40px;top:850.84px;font-size:12px;font-weight:normal;color:#131722;letter-spacing:-0.358px;">54.50</div>
<div id="tNov" class="t" style="left:38.74px;top:874.14px;font-size:12px;font-weight:normal;color:#131722;letter-spacing:-0.622px;">Nov</div>
<div id="tDec" class="t" style="left:185.99px;top:874.14px;font-size:12px;font-weight:normal;color:#131722;letter-spacing:-0.622px;">Dec</div>
<div id="t2024" class="t" style="left:322.53px;top:874.14px;font-size:12px;font-weight:bold;color:#131722;letter-spacing:0.266px;">2024</div>
<div id="tFeb" class="t" style="left:473.78px;top:874.14px;font-size:12px;font-weight:normal;color:#131722;letter-spacing:-0.594px;">Feb</div>
<div id="tMar" class="t" style="left:613.77px;top:874.14px;font-size:12px;font-weight:normal;color:#131722;letter-spacing:-0.336px;">Mar</div>
<div id="tApr" class="t" style="left:754.96px;top:874.14px;font-size:12px;font-weight:normal;color:#131722;letter-spacing:-0.294px;">Apr</div>
<div id="tMay" class="t" style="left:907.48px;top:874.14px;font-size:12px;font-weight:normal;color:#131722;letter-spacing:-0.536px;">May</div>
<div id="tJun" class="t" style="left:1063.24px;top:874.14px;font-size:12px;font-weight:normal;color:#131722;letter-spacing:-0.380px;">Jun</div>
<div id="tJul" class="t" style="left:1198.02px;top:874.14px;font-size:12px;font-weight:normal;color:#131722;letter-spacing:0.078px;">Jul</div>
<div id="tAug" class="t" style="left:1349.98px;top:874.14px;font-size:12px;font-weight:normal;color:#131722;letter-spacing:-0.630px;">Aug</div>
<div id="tSep" class="t" style="left:1504.75px;top:874.14px;font-size:12px;font-weight:normal;color:#131722;letter-spacing:-1.130px;">Sep</div>
<div id="tOct" class="t" style="left:1645.24px;top:874.14px;font-size:12px;font-weight:normal;color:#131722;letter-spacing:-0.036px;">Oct</div>
<div id="tv" class="t" style="left:33.00px;top:906.15px;font-size:13px;font-weight:normal;color:#1e222d;letter-spacing:-0.125px;">TradingView</div>
<div class="box" style="left:1760px;top:83px;width:49px;height:17px"></div>
<div class="box" style="left:1760px;top:278px;width:60px;height:31px"></div>
<div class="usd"></div>
<div class="acirc"></div>
<div id="b1" class="t" style="left:1768.70px;top:83.84px;font-size:12px;font-weight:bold;color:#fff;letter-spacing:-0.189px;">114.35</div>
<div id="b2" class="t" style="left:1768.40px;top:278.94px;font-size:12px;font-weight:bold;color:#fff;letter-spacing:-0.358px;">94.76</div>
<div id="b3" class="t" style="left:1768.40px;top:292.84px;font-size:12px;font-weight:normal;color:#e4e4e4;letter-spacing:-0.131px;">02:25:42</div>
<div id="usd" class="t" style="left:1772.20px;top:36.74px;font-size:12px;font-weight:normal;color:#131722;letter-spacing:0.000px;transform:scaleX(0.8);transform-origin:left center;">USD</div>
<div id="A" class="t" style="left:1789.30px;top:874.72px;font-size:10px;font-weight:normal;color:#434651;letter-spacing:0.000px;">A</div>
<div class="overlay"></div>
<div class="logo" id="logo">rationale.</div>
<svg class="tvlogo" width="20.3" height="15.8" viewBox="0 0 36 28"><path d="M14 22H7V11H0V4h14v18zM28 22h-8l7.5-18h8L28 22z" fill="#131722"/><circle cx="20" cy="8" r="4" fill="#131722"/></svg>
</body></html>
